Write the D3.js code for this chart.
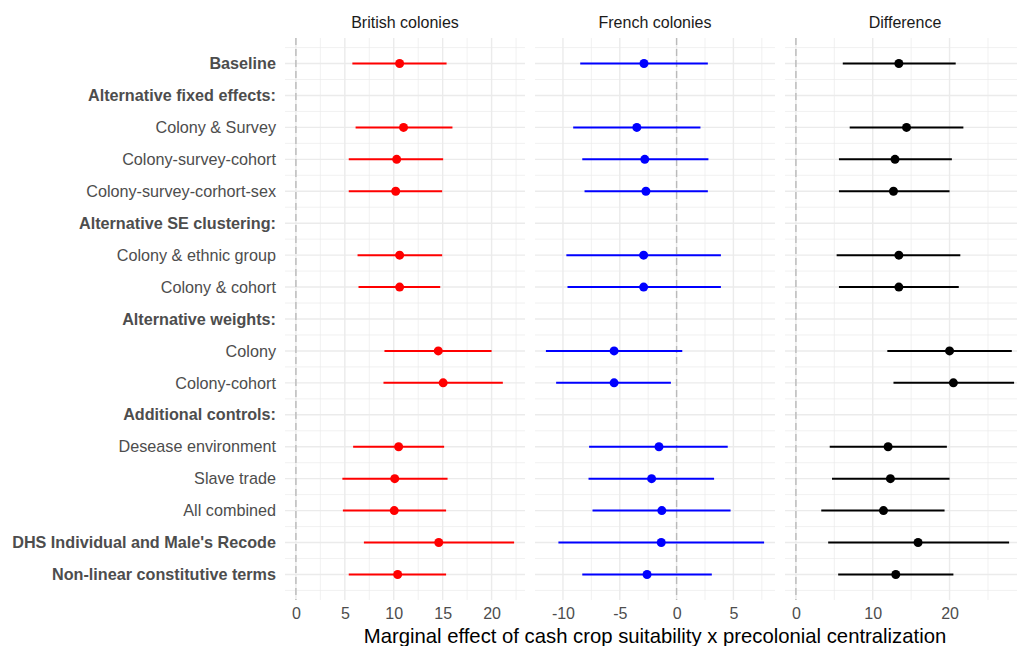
<html>
  <head><meta charset="utf-8"></head>
  <script src='https://d3js.org/d3.v7.min.js'></script>
  <style>
    body {margin: 0; background: white;}
    text {font-family: "Liberation Sans", Arial, sans-serif;}
  </style>
  <body>
    <svg class="chart" width=1017 height=646></svg>
    <script>
      var labels = ["Baseline", "Alternative fixed effects:", "Colony & Survey", "Colony-survey-cohort",
        "Colony-survey-corhort-sex", "Alternative SE clustering:", "Colony & ethnic group", "Colony & cohort",
        "Alternative weights:", "Colony", "Colony-cohort", "Additional controls:", "Desease environment",
        "Slave trade", "All combined", "DHS Individual and Male's Recode", "Non-linear constitutive terms"];
      var boldRows = ["Baseline", "Alternative fixed effects:", "Alternative SE clustering:", "Alternative weights:",
        "Additional controls:", "DHS Individual and Male's Recode", "Non-linear constitutive terms"];

      var panels = ["British colonies", "French colonies", "Difference"];
      var colors = ["#ff0000", "#0000ff", "#000000"];

      var britEst = [10.6, null, 11.0, 10.3, 10.2, null, 10.6, 10.6, null, 14.55, 15.05, null, 10.5, 10.1, 10.05, 14.6, 10.4];
      var britLo  = [5.77, null, 6.1, 5.4, 5.4, null, 6.3, 6.4, null, 9.05, 8.95, null, 5.85, 4.75, 4.8, 6.95, 5.4];
      var britHi  = [15.4, null, 16.0, 15.05, 14.95, null, 14.95, 14.75, null, 20.0, 21.15, null, 15.15, 15.5, 15.35, 22.3, 15.35];

      var frEst = [-2.87, null, -3.5, -2.8, -2.7, null, -2.9, -2.9, null, -5.5, -5.5, null, -1.55, -2.2, -1.3, -1.35, -2.6];
      var frLo  = [-8.48, null, -9.1, -8.3, -8.1, null, -9.7, -9.6, null, -11.5, -10.6, null, -7.7, -7.75, -7.4, -10.4, -8.3];
      var frHi  = [2.75, null, 2.1, 2.8, 2.75, null, 3.9, 3.9, null, 0.5, -0.5, null, 4.5, 3.3, 4.75, 7.7, 3.1];

      var diffEst = [13.4, null, 14.4, 12.9, 12.7, null, 13.4, 13.4, null, 20.0, 20.5, null, 12.0, 12.3, 11.4, 15.9, 13.0];
      var diffLo  = [6.1, null, 7.0, 5.6, 5.6, null, 5.3, 5.6, null, 11.9, 12.7, null, 4.4, 4.7, 3.3, 4.2, 5.5];
      var diffHi  = [20.8, null, 21.8, 20.3, 20.0, null, 21.4, 21.2, null, 28.1, 28.4, null, 19.65, 20.0, 19.35, 27.75, 20.5];

      var majorTicks = [[0, 5, 10, 15, 20], [-10, -5, 0, 5], [0, 10, 20]];
      var minorTicks = [[2.5, 7.5, 12.5, 17.5, 22.5], [-7.5, -2.5, 2.5, 7.5], [5, 15, 25]];

      var xTitle = "Marginal effect of cash crop suitability x precolonial centralization";

      var panelLeft = 285, panelW = 240, gap = 10, panelTop = 38, panelBottom = 600;

      var svg = d3.select('.chart');

      var y = d3.scaleLinear()
        .domain([0.2, labels.length + 0.8])
        .range([panelTop, panelBottom]);

      var rowHalf = d3.range(0.5, labels.length + 0.75, 0.5);

      // y labels
      svg.append("g").selectAll("text")
        .data(labels)
        .enter().append("text")
        .attr("x", 276)
        .attr("y", function(d, i) {return y(i + 1);})
        .attr("dy", "0.35em")
        .attr("text-anchor", "end")
        .style("font-size", "16.2px")
        .style("fill", "#4d4d4d")
        .style("font-weight", function(d) {return boldRows.indexOf(d) >= 0 ? "bold" : "normal";})
        .text(function(d) {return d;});

      var series = [
        {est: britEst, lo: britLo, hi: britHi},
        {est: frEst, lo: frLo, hi: frHi},
        {est: diffEst, lo: diffLo, hi: diffHi}
      ];

      panels.forEach(function(name, p) {
        var s = series[p];
        var rows = [];
        for (var i = 0; i < labels.length; i++) {
          if (s.est[i] != null) rows.push({row: i + 1, est: s.est[i], lo: s.lo[i], hi: s.hi[i]});
        }
        var lo = Math.min(0, d3.min(rows, function(d) {return d.lo;}));
        var hi = Math.max(0, d3.max(rows, function(d) {return d.hi;}));
        var pad = (hi - lo) * 0.05;
        var x0 = panelLeft + p * (panelW + gap);

        var x = d3.scaleLinear()
          .domain([lo - pad, hi + pad])
          .range([x0, x0 + panelW]);

        var g = svg.append("g");

        // minor grid
        g.selectAll(".hminor")
          .data(rowHalf.filter(function(v) {return v % 1 != 0;}))
          .enter().append("line")
          .attr("x1", x0).attr("x2", x0 + panelW)
          .attr("y1", function(d) {return y(d);}).attr("y2", function(d) {return y(d);})
          .style("stroke", "#ebebeb").style("stroke-width", 0.7);
        g.selectAll(".vminor")
          .data(minorTicks[p])
          .enter().append("line")
          .attr("x1", function(d) {return x(d);}).attr("x2", function(d) {return x(d);})
          .attr("y1", panelTop).attr("y2", panelBottom)
          .style("stroke", "#ebebeb").style("stroke-width", 0.7);

        // major grid
        g.selectAll(".hmajor")
          .data(d3.range(1, labels.length + 1))
          .enter().append("line")
          .attr("x1", x0).attr("x2", x0 + panelW)
          .attr("y1", function(d) {return y(d);}).attr("y2", function(d) {return y(d);})
          .style("stroke", "#ebebeb").style("stroke-width", 1.4);
        g.selectAll(".vmajor")
          .data(majorTicks[p])
          .enter().append("line")
          .attr("x1", function(d) {return x(d);}).attr("x2", function(d) {return x(d);})
          .attr("y1", panelTop).attr("y2", panelBottom)
          .style("stroke", "#ebebeb").style("stroke-width", 1.4);

        // zero line
        g.append("line")
          .attr("x1", x(0)).attr("x2", x(0))
          .attr("y1", panelTop).attr("y2", panelBottom)
          .style("stroke", "#bababa").style("stroke-width", 1.4)
          .style("stroke-dasharray", "7,4");

        // strip title
        svg.append("text")
          .attr("x", x0 + panelW / 2)
          .attr("y", 28)
          .attr("text-anchor", "middle")
          .style("font-size", "16px")
          .style("fill", "#1a1a1a")
          .text(name);

        // error bars and points
        g.selectAll(".bar")
          .data(rows)
          .enter().append("line")
          .attr("x1", function(d) {return x(d.lo);})
          .attr("x2", function(d) {return x(d.hi);})
          .attr("y1", function(d) {return y(d.row);})
          .attr("y2", function(d) {return y(d.row);})
          .style("stroke", colors[p]).style("stroke-width", 2);
        g.selectAll("circle")
          .data(rows)
          .enter().append("circle")
          .attr("cx", function(d) {return x(d.est);})
          .attr("cy", function(d) {return y(d.row);})
          .attr("r", 4.5)
          .style("fill", colors[p]);

        var xAxis = d3.axisBottom(x)
          .tickValues(majorTicks[p])
          .tickSize(0)
          .tickPadding(0)
          .tickFormat(function(d) {return String(d);});
        var ax = svg.append("g")
          .attr("transform", "translate(0," + (panelBottom + 8) + ")")
          .call(xAxis);
        ax.select(".domain").remove();
        ax.selectAll("text")
          .attr("dy", "0.71em")
          .style("font-size", "16px")
          .style("fill", "#4d4d4d")
          .style("font-family", '"Liberation Sans", Arial, sans-serif');
      });

      svg.append("text")
        .attr("x", panelLeft + (3 * panelW + 2 * gap) / 2)
        .attr("y", 643)
        .attr("text-anchor", "middle")
        .style("font-size", "20.3px")
        .style("fill", "#000000")
        .text(xTitle);
    </script>
  </body>
</html>
